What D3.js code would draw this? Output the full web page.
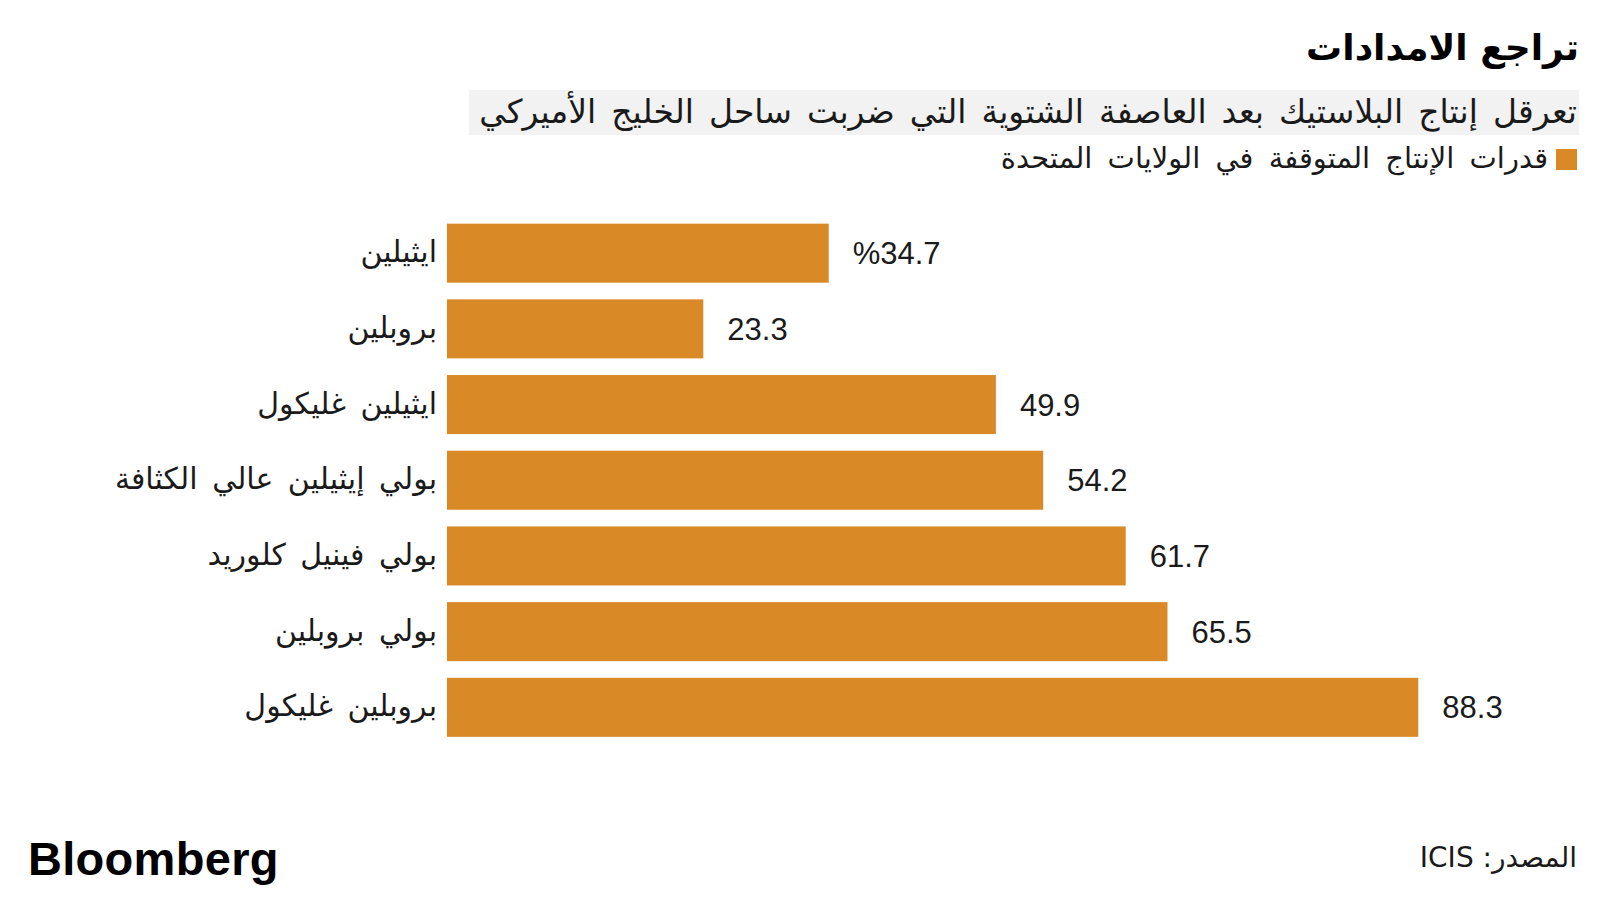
<!DOCTYPE html>
<html lang="ar">
<head>
<meta charset="utf-8">
<script src="https://cdn.jsdelivr.net/npm/d3@7/dist/d3.min.js"></script>
<style>
  html, body { margin: 0; padding: 0; background: #ffffff; }
  svg { display: block; }
  .ar { font-family: "DejaVu Sans", "Noto Sans", sans-serif; }
  .lat { font-family: "Liberation Sans", Arial, sans-serif; }
</style>
</head>
<body>
<script>
// ---- Data ----
const categories = [
  "ايثيلين",
  "بروبلين",
  "ايثيلين غليكول",
  "بولي إيثيلين عالي الكثافة",
  "بولي فينيل كلوريد",
  "بولي بروبلين",
  "بروبلين غليكول"
];
const values = [34.7, 23.3, 49.9, 54.2, 61.7, 65.5, 88.3];
const valueLabels = ["%34.7", "23.3", "49.9", "54.2", "61.7", "65.5", "88.3"];
const titleText = "تراجع الامدادات";
const subtitleText = "تعرقل إنتاج البلاستيك بعد العاصفة الشتوية التي ضربت ساحل الخليج الأميركي";
const legendText = "قدرات الإنتاج المتوقفة في الولايات المتحدة";
const sourceText = "المصدر: ICIS";
const brandText = "Bloomberg";

// ---- Layout ----
const W = 1600, H = 900;
const barColor = "#d98a27";
const textColor = "#1a1a1a";

const svg = d3.select("body").append("svg")
  .attr("width", W).attr("height", H)
  .attr("viewBox", `0 0 ${W} ${H}`);

const x = d3.scaleLinear().domain([0, 100]).range([447, 1547]);
const y = d3.scaleBand()
  .domain(categories)
  .range([207, 753.5])
  .paddingInner(0.22)
  .paddingOuter(0.22);

// Title
svg.append("text").attr("class", "ar")
  .attr("x", 1579).attr("y", 60)
  .attr("text-anchor", "start")
  .attr("direction", "rtl")
  .attr("font-size", 36).attr("font-weight", "bold")
  .attr("fill", "#000")
  .text(titleText);

// Subtitle background + text
svg.append("rect")
  .attr("x", 469).attr("y", 90).attr("width", 1110).attr("height", 45)
  .attr("fill", "#f2f2f2");
svg.append("text").attr("class", "ar")
  .attr("x", 1577).attr("y", 123)
  .attr("direction", "rtl")
  .attr("text-anchor", "start")
  .attr("font-size", 33)
  .attr("word-spacing", 4.5)
  .attr("fill", textColor)
  .text(subtitleText);

// Legend
svg.append("rect")
  .attr("x", 1556).attr("y", 149).attr("width", 21).attr("height", 21)
  .attr("fill", barColor);
svg.append("text").attr("class", "ar")
  .attr("x", 1548).attr("y", 168)
  .attr("direction", "rtl")
  .attr("text-anchor", "start")
  .attr("font-size", 29)
  .attr("word-spacing", 6)
  .attr("fill", textColor)
  .text(legendText);

// Bars
const g = svg.append("g");
g.selectAll("rect.bar")
  .data(values)
  .join("rect")
  .attr("class", "bar")
  .attr("x", x(0))
  .attr("y", (d, i) => y(categories[i]))
  .attr("width", d => x(d) - x(0))
  .attr("height", y.bandwidth())
  .attr("fill", barColor);

// Value labels
g.selectAll("text.val")
  .data(values)
  .join("text")
  .attr("class", "val lat")
  .attr("x", d => x(d) + 24)
  .attr("y", (d, i) => y(categories[i]) + y.bandwidth() / 2)
  .attr("dy", "0.36em")
  .attr("font-size", 31)
  .attr("fill", textColor)
  .text((d, i) => valueLabels[i]);

// Category labels
g.selectAll("text.cat")
  .data(categories)
  .join("text")
  .attr("class", "cat ar")
  .attr("x", x(0) - 10)
  .attr("y", d => y(d) + y.bandwidth() / 2)
  .attr("dy", "0.3em")
  .attr("direction", "rtl")
  .attr("text-anchor", "start")
  .attr("font-size", 30)
  .attr("word-spacing", 5)
  .attr("fill", textColor)
  .text(d => d);

// Footer
svg.append("text").attr("class", "lat")
  .attr("x", 28).attr("y", 875)
  .attr("font-size", 47).attr("font-weight", "bold")
  .attr("letter-spacing", 0.3)
  .attr("fill", "#000")
  .text(brandText);

svg.append("text").attr("class", "ar")
  .attr("x", 1577).attr("y", 867)
  .attr("direction", "rtl")
  .attr("text-anchor", "start")
  .attr("font-size", 28)
  .attr("fill", textColor)
  .text(sourceText);
</script>
</body>
</html>
